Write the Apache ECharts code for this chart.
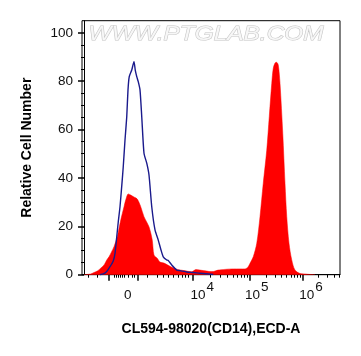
<!DOCTYPE html>
<html><head><meta charset="utf-8">
<script src="https://cdn.jsdelivr.net/npm/echarts@6/dist/echarts.min.js"></script>
<style>html,body{margin:0;padding:0;background:#fff}#c{width:361px;height:356px}</style>
</head><body><div id="c"></div>
<script>
// x in biexponential channel units (0..1024), y = relative cell number
const ctrlX = [64,77,91,104,117,124,131,137,144,151,157,164,171,176,181,191,200,205,211,217,224,231,240,251,260,271,284,297,308,317,331,337,351,371,384,411,437,464,491,517];
const ctrlY = [0,0.3,1.3,3.3,5.7,8.8,15.7,21.8,28.1,36.7,44.6,55.7,65.3,76.4,81.9,84.6,88.1,84.6,81.9,79.8,76.4,65.3,50.2,46.1,41.2,28.1,18.5,14.3,10.2,7.4,6.1,5.9,4.0,1.9,1.7,1.1,0.9,0.6,0.4,0.1];
const cd14X = [0,11,27,40,53,68,80,91,100,110,120,133,147,160,168,177,187,200,213,227,240,260,273,280,293,304,320,347,373,400,431,448,464,491,504,517,536,564,597,624,644,656,664,677,691,704,717,731,741,751,757,764,770,777,784,795,804,811,820,831,844,864,884,904,924];
const cd14Y = [0,0.1,0.3,0.9,1.5,2.8,4.0,6.1,7.4,9.4,11.6,15.7,22.6,28.1,31.3,33.4,32.9,32.1,31.3,28.1,24.0,19.8,14.3,8.1,6.8,5.2,4.8,3.3,2.2,1.7,1.2,2.1,1.9,1.5,1.3,1.3,1.9,2.2,2.4,2.4,2.4,3.2,4.7,7.4,13.0,24.0,37.8,51.5,65.3,79.1,85.3,87.5,87.8,86.7,79.1,58.5,37.8,24.0,13.0,6.1,1.9,0.5,0.3,0.1,0];
const xLabelPos = [175, 473, 691, 908];
const xLabelText = ['0', '4', '5', '6'];
const xMajorTicks = [97, 215, 435, 664, 873];
const xMinorTicks = [15,51,119,127,135,143,151,159,175,191,200,251,291,317,337,357,377,391,404,417,504,544,573,595,613,629,642,653,727,764,790,810,827,841,853,863,936,973,999,1019];
const yLabels = [0,20,40,60,80,100];
const yMinorTicks = [5,10,15,25,30,35,45,50,55,65,70,75,85,90,95];

const ctrl = ctrlX.map((x,i)=>[x, ctrlY[i]]);
const cd14 = cd14X.map((x,i)=>[x, cd14Y[i]]);
const FONT = '"Liberation Sans", Arial, sans-serif';
const chart = echarts.init(document.getElementById('c'));
const labelMap = {};
xLabelPos.forEach((p,i)=>labelMap[p]=xLabelText[i]);
chart.setOption({
  animation: false,
  grid: {left: 82, right: 21, top: 20.7, bottom: 81.3, show: true, borderColor: '#000', borderWidth: 1},
  graphic: [{
    type: 'text', left: 88, top: 23, scaleX: 1.22, scaleY: 1.05,
    style: {text: 'WWW.PTGLAB.COM', font: 'italic 20px ' + FONT, fill: '#f7f7f7', stroke: '#c4c4c4', lineWidth: 1}
  }],
  xAxis: [{
    type: 'value', min: -8, max: 1024,
    axisLine: {show: true, lineStyle: {color: '#000', width: 1}},
    splitLine: {show: false},
    axisTick: {show: true, customValues: xMajorTicks, length: 6, lineStyle: {color: '#000', width: 1.5}},
    axisLabel: {
      show: true, customValues: xLabelPos, margin: 14,
      formatter: v => { const t = labelMap[v]; return t === '0' ? '{z|0}' : '{b|10}{s|' + t + '}'; },
      rich: {
        b: {fontSize: 13.5, fontFamily: FONT, color: '#111', lineHeight: 14, verticalAlign: 'bottom'},
        s: {fontSize: 13.5, fontFamily: FONT, color: '#111', lineHeight: 14, verticalAlign: 'bottom', padding: [0,0,8,1]},
        z: {fontSize: 13.5, fontFamily: FONT, color: '#111', lineHeight: 14, verticalAlign: 'bottom', padding: [8,0,0,0]}
      }
    },
    name: 'CL594-98020(CD14),ECD-A', nameLocation: 'middle', nameGap: 47,
    nameTextStyle: {fontSize: 14, fontWeight: 'bold', fontFamily: FONT, color: '#000'}
  }, {
    type: 'value', min: -8, max: 1024, position: 'bottom',
    axisLine: {show: false}, splitLine: {show: false}, axisLabel: {show: false},
    axisTick: {show: true, customValues: xMinorTicks, length: 3, lineStyle: {color: '#000', width: 1}}
  }],
  yAxis: [{
    type: 'value', min: 0, max: 105,
    axisLine: {show: true, lineStyle: {color: '#000', width: 1}},
    splitLine: {show: false},
    axisTick: {show: true, customValues: yLabels, length: 6, lineStyle: {color: '#000', width: 1.5}},
    axisLabel: {show: true, customValues: yLabels, margin: 9, fontSize: 13.5, fontFamily: FONT, color: '#111'},
    name: 'Relative Cell Number', nameLocation: 'middle', nameGap: 48,
    nameTextStyle: {fontSize: 14, fontWeight: 'bold', fontFamily: FONT, color: '#000'}
  }, {
    type: 'value', min: 0, max: 105, position: 'left',
    axisLine: {show: false}, splitLine: {show: false}, axisLabel: {show: false},
    axisTick: {show: true, customValues: yMinorTicks, length: 3, lineStyle: {color: '#000', width: 1}}
  }],
  series: [{
    type: 'line', data: cd14, xAxisIndex: 0, yAxisIndex: 0, showSymbol: false, smooth: 0.3,
    lineStyle: {width: 0.5, color: '#ff0000'}, itemStyle: {color: '#ff0000'},
    areaStyle: {color: '#ff0000', opacity: 1}, z: 2
  }, {
    type: 'line', data: ctrl, xAxisIndex: 0, yAxisIndex: 0, showSymbol: false, smooth: 0.2,
    lineStyle: {width: 1.4, color: '#1a1a8c'}, itemStyle: {color: '#1a1a8c'}, z: 3
  }]
});
</script></body></html>
